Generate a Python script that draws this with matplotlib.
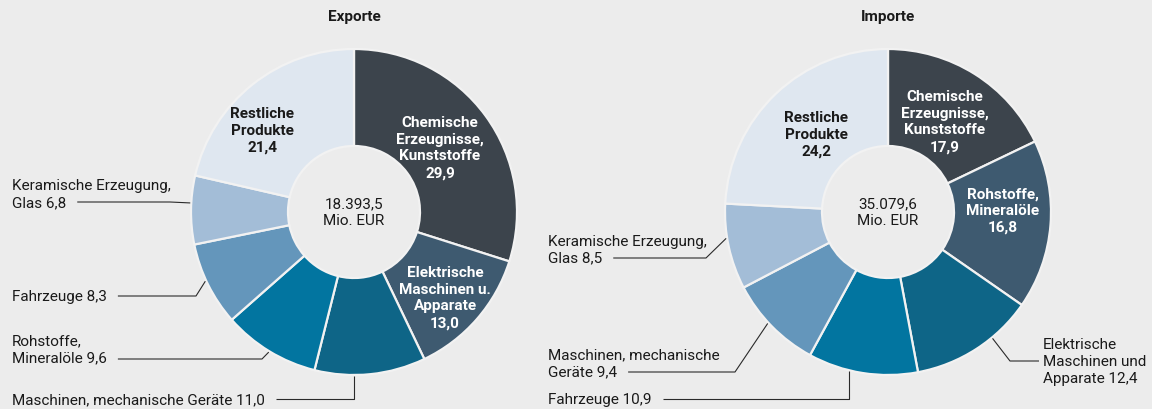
import math
import matplotlib
matplotlib.use("Agg")
import matplotlib.pyplot as plt
from matplotlib import font_manager

# ---------------- data ----------------
export_labels = ['Chemische\nErzeugnisse,\nKunststoffe', 'Elektrische\nMaschinen u.\nApparate',
                 'Maschinen, mechanische Geräte', 'Rohstoffe,\nMineralöle', 'Fahrzeuge',
                 'Keramische Erzeugung,\nGlas', 'Restliche\nProdukte']
export_values = [29.9, 13.0, 11.0, 9.6, 8.3, 6.8, 21.4]
export_total = '18.393,5\nMio. EUR'

import_labels = ['Chemische\nErzeugnisse,\nKunststoffe', 'Rohstoffe,\nMineralöle',
                 'Elektrische\nMaschinen und\nApparate', 'Fahrzeuge',
                 'Maschinen, mechanische\nGeräte', 'Keramische Erzeugung,\nGlas', 'Restliche\nProdukte']
import_values = [17.9, 16.8, 12.4, 10.9, 9.4, 8.5, 24.2]
import_total = '35.079,6\nMio. EUR'

titles = ['Exporte', 'Importe']

# ---------------- style ----------------
W, H = 1152, 410
BG = '#ececec'
COLORS = ['#3c444c', '#3e5a70', '#0e6587', '#0275a0', '#6496bb', '#a3bdd7', '#dfe7f0']
INNER_TEXT = ['white', 'white', 'white', 'white', 'white', 'white', '#1a1a1a']
names = {f.name for f in font_manager.fontManager.ttflist}
FAM = [f for f in ['Liberation Sans Narrow', 'Roboto', 'DejaVu Sans'] if f in names]
plt.rcParams['font.family'] = FAM
FS = 11

R_OUT, R_IN = 163, 66
GAP = 11

fig = plt.figure(figsize=(W / 100, H / 100), dpi=100, facecolor=BG)
ax = fig.add_axes([0, 0, 1, 1])
ax.set_facecolor(BG)
renderer = fig.canvas.get_renderer()


def Y(y):
    return H - y


def fmt(v):
    return f'{v:.1f}'.replace('.', ',')


def text_width(s, **kw):
    t = ax.text(0, 0, s, fontsize=FS, **kw)
    w = t.get_window_extent(renderer).width
    t.remove()
    return w


def donut(labels, values, total, title, cx, cy, inner_pos, outer_specs):
    ax.pie(values, center=(cx, Y(cy)), radius=R_OUT, startangle=90, counterclock=False,
           colors=COLORS, normalize=True,
           wedgeprops=dict(width=R_OUT - R_IN, edgecolor='#f2f2f2', linewidth=1.6))
    ax.text(cx, Y(17), title, ha='center', va='center', fontsize=FS, fontweight='bold', color='#1a1a1a')
    ax.text(cx, Y(cy), total, ha='center', va='center', fontsize=FS, color='#1a1a1a', linespacing=1.25)
    tot = sum(values)
    cum = [sum(values[:i]) for i in range(len(values))]
    for i, (px, py) in inner_pos.items():
        ax.text(px, Y(py), labels[i] + '\n' + fmt(values[i]), ha='center', va='center',
                fontsize=FS, fontweight='bold', color=INNER_TEXT[i], linespacing=1.25)
    for i, sp in outer_specs.items():
        tx, ty, ly, side, elbow, frac = sp
        s = labels[i] + ' ' + fmt(values[i])
        ax.text(tx, Y(ty), s, ha='left', va='center',
                fontsize=FS, color='#1a1a1a', linespacing=1.25)
        if side == 'R':
            x0 = tx + text_width(s.split('\n')[-1]) + GAP
        else:
            x0 = tx - 4
        th = math.radians(360 * (cum[i] + frac * values[i]) / tot)
        axp = cx + (R_OUT + 1) * math.sin(th)
        ayp = cy - (R_OUT + 1) * math.cos(th)
        ex = axp if elbow is None else elbow
        ax.plot([x0, ex, axp], [Y(ly), Y(ly), Y(ayp)], color='#2a2a2a', lw=0.8,
                solid_capstyle='butt')


donut(export_labels, export_values, export_total, titles[0], 354, 213,
      {0: (440, 148), 1: (445, 298), 6: (262, 131)},
      {5: (12, 194.5, 203, 'R', 170, 0.6),
       4: (12, 297, 297, 'R', 196, 0.55),
       3: (12, 350, 360, 'R', 262, 0.5),
       2: (12, 400, 400, 'R', None, 0.645)})

donut(import_labels, import_values, import_total, titles[1], 888, 213,
      {0: (945, 122), 1: (1003, 211), 6: (816, 135)},
      {5: (548, 250, 259, 'R', 706, 0.6),
       4: (548, 363.5, 373, 'R', 735, 0.55),
       3: (548, 400, 400, 'R', None, 0.62),
       2: (1043, 362, 362, 'L', 1010, 0.35)})

ax.set_xlim(0, W)
ax.set_ylim(0, H)
ax.set_aspect('equal')
ax.axis('off')

fig.savefig('out.png', dpi=100, facecolor=BG)
